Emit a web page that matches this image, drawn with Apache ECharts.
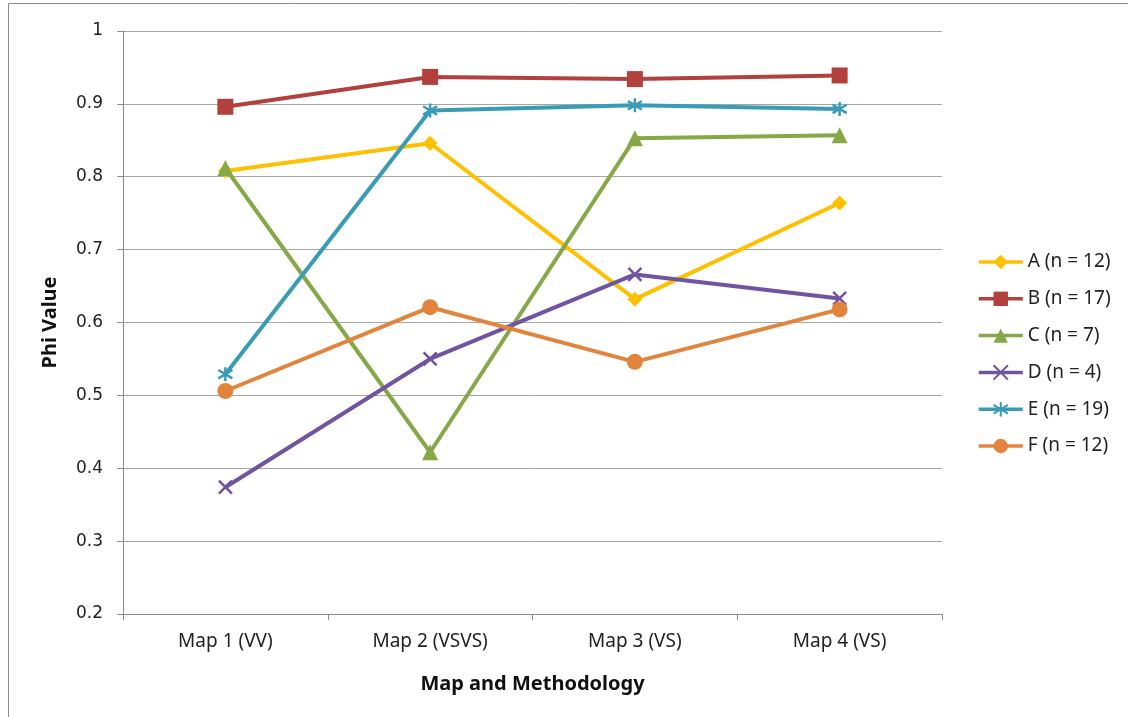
<!DOCTYPE html>
<html><head><meta charset="utf-8">
<script src="https://cdn.jsdelivr.net/npm/echarts@6/dist/echarts.min.js"></script>
<style>html,body{margin:0;padding:0;background:#fff}#c{width:1128px;height:717px}</style>
</head><body><div id="c"></div>
<script>
const categories = ['Map 1 (VV)', 'Map 2 (VSVS)', 'Map 3 (VS)', 'Map 4 (VS)'];
const seriesNames = ['A (n = 12)', 'B (n = 17)', 'C (n = 7)', 'D (n = 4)', 'E (n = 19)', 'F (n = 12)'];
const A = [0.808, 0.846, 0.632, 0.764];
const B = [0.896, 0.937, 0.934, 0.939];
const C = [0.812, 0.422, 0.853, 0.857];
const D = [0.374, 0.550, 0.666, 0.633];
const E = [0.529, 0.891, 0.898, 0.893];
const F = [0.506, 0.621, 0.546, 0.618];
const yTicks = [0.2, 0.3, 0.4, 0.5, 0.6, 0.7, 0.8, 0.9, 1];

const colors = ['#FFC000', '#B2403D', '#86A846', '#7154A0', '#3A9BB5', '#E3843D'];
const symbols = [
  'diamond', 'rect', 'triangle',
  'path://M0,0 L10,10 M10,0 L0,10',
  'path://M5,0 L5,10 M0,2 L10,8 M0,8 L10,2',
  'circle'
];
const sizes = [15, 16, 16, 13, 14, 16];
const data = [A, B, C, D, E, F];
const font = 'Noto Sans, sans-serif';

const chart = echarts.init(document.getElementById('c'), null, {renderer: 'canvas'});
chart.setOption({
  animation: false,
  backgroundColor: '#fff',
  color: colors,
  graphic: [{type: 'rect', shape: {x: 8.5, y: 3.5, width: 1130, height: 730}, style: {fill: 'none', stroke: '#8c8c8c', lineWidth: 1}}],
  grid: {left: 123, right: 186, top: 31, bottom: 103},
  legend: {
    orient: 'vertical', left: 972, top: 247, itemGap: 16.8, itemWidth: 44, itemHeight: 18,
    textStyle: {fontFamily: font, fontSize: 19, color: '#222', lineHeight: 20},
    lineStyle: {width: 3.5},
    data: seriesNames
  },
  xAxis: {
    type: 'category', data: categories, boundaryGap: true,
    axisLine: {lineStyle: {color: '#8c8c8c', width: 1}},
    axisTick: {show: true, inside: false, length: 6, lineStyle: {color: '#8c8c8c'}},
    axisLabel: {fontFamily: font, fontSize: 19, color: '#222', margin: 18},
    name: 'Map and Methodology', nameLocation: 'middle', nameGap: 60,
    nameTextStyle: {fontFamily: font, fontSize: 20, fontWeight: 'bold', color: '#111'}
  },
  yAxis: {
    type: 'value', min: 0.2, max: 1, interval: 0.1,
    axisLine: {show: true, lineStyle: {color: '#8c8c8c'}},
    axisTick: {show: true, length: 6, lineStyle: {color: '#8c8c8c'}},
    splitLine: {lineStyle: {color: '#a6a6a6', width: 1}},
    axisLabel: {fontFamily: 'DejaVu Sans, sans-serif', fontSize: 17, color: '#222', margin: 20,
      formatter: v => { const t = yTicks.find(x => Math.abs(x - v) < 1e-6); return t === undefined ? '' : String(t); }},
    name: 'Phi Value', nameLocation: 'middle', nameGap: 63,
    nameTextStyle: {fontFamily: font, fontSize: 20, fontWeight: 'bold', color: '#111'}
  },
  series: seriesNames.map((n, i) => ({
    name: n, type: 'line', data: data[i],
    symbol: symbols[i], symbolSize: sizes[i],
    lineStyle: {width: 4, color: colors[i]},
    itemStyle: {color: colors[i], borderColor: colors[i], borderWidth: (i === 3 || i === 4) ? 2.5 : 0},
    z: 2 + i
  }))
});
</script></body></html>
